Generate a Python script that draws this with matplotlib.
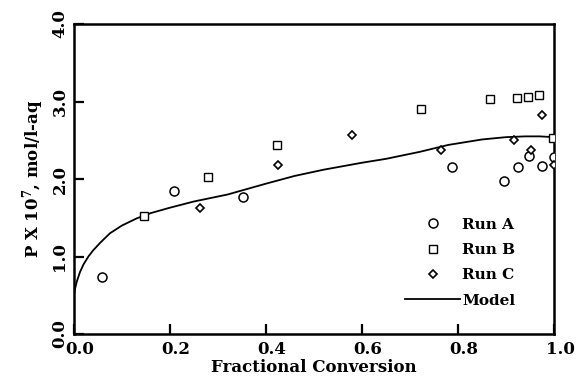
import matplotlib
matplotlib.use('Agg')
from matplotlib import pyplot as plt
from matplotlib.transforms import ScaledTranslation

# measured product concentration (x 1e7 mol/l-aq) vs fractional conversion
run_a_x = [0.058, 0.209, 0.352, 0.788, 0.896, 0.926, 0.948, 0.974, 0.999]
run_a_y = [0.74, 1.85, 1.77, 2.15, 1.97, 2.15, 2.30, 2.17, 2.29]

run_b_x = [0.146, 0.280, 0.423, 0.722, 0.866, 0.922, 0.946, 0.969, 0.997]
run_b_y = [1.52, 2.03, 2.44, 2.90, 3.03, 3.05, 3.06, 3.08, 2.53]

run_c_x = [0.263, 0.424, 0.580, 0.765, 0.917, 0.952, 0.976, 0.999]
run_c_y = [1.63, 2.18, 2.57, 2.37, 2.50, 2.38, 2.83, 2.18]

# model prediction
model_x = [0.0, 0.002, 0.006, 0.0125, 0.02, 0.03, 0.04, 0.055, 0.075, 0.10,
           0.13, 0.16, 0.20, 0.25, 0.32, 0.40, 0.46, 0.52, 0.60, 0.65,
           0.72, 0.78, 0.85, 0.90, 0.94, 0.97, 1.0]
model_y = [0.50, 0.58, 0.68, 0.80, 0.90, 1.00, 1.08, 1.18, 1.30, 1.40,
           1.49, 1.56, 1.63, 1.71, 1.80, 1.94, 2.04, 2.12, 2.21, 2.26,
           2.35, 2.44, 2.51, 2.54, 2.55, 2.55, 2.54]

x_ticks = [0.0, 0.2, 0.4, 0.6, 0.8, 1.0]
y_ticks = [0.0, 1.0, 2.0, 3.0, 4.0]

plt.rcParams['font.family'] = ['DejaVu Serif']
plt.rcParams['font.weight'] = 'bold'
plt.rcParams['mathtext.fontset'] = 'custom'
plt.rcParams['mathtext.rm'] = 'DejaVu Serif:bold'
plt.rcParams['mathtext.it'] = 'DejaVu Serif:bold'
plt.rcParams['mathtext.bf'] = 'DejaVu Serif:bold'

fig = plt.figure(figsize=(5.79, 3.83), dpi=100)
ax = fig.add_axes([74 / 579, 49 / 383, 480 / 579, 310 / 383])

ax.plot(model_x, model_y, color='black', lw=1.3, label='Model', zorder=2)
ax.plot(run_a_x, run_a_y, 'o', ms=6.5, mfc='white', mec='black', mew=1.1,
        label='Run A', zorder=3)
ax.plot(run_b_x, run_b_y, 's', ms=6.0, mfc='white', mec='black', mew=1.0,
        label='Run B', zorder=3)
ax.plot(run_c_x, run_c_y, 'D', ms=4.2, mfc='white', mec='black', mew=1.2,
        label='Run C', zorder=3)

ax.set_xlim(0, 1.0)
ax.set_ylim(0, 4.0)
ax.set_xticks(x_ticks)
ax.set_yticks(y_ticks)
ax.set_xticklabels(['%.1f' % v for v in x_ticks], fontsize=12, fontweight='bold')
ax.set_yticklabels(['%.1f' % v for v in y_ticks], fontsize=12, fontweight='bold',
                   rotation=90, va='center')
ax.tick_params(direction='in', length=7, width=1.6, pad=4)
ax.tick_params(axis='x', pad=5)
for lab in ax.get_xticklabels():
    lab.set_transform(lab.get_transform() + ScaledTranslation(6 / 100, 0, fig.dpi_scale_trans))
for sp in ax.spines.values():
    sp.set_linewidth(1.8)

ax.set_xlabel('Fractional Conversion', fontsize=12, fontweight='bold', labelpad=1)
ax.set_ylabel(r'P X 10$^{7}$, mol/l-aq', fontsize=12, fontweight='bold', labelpad=4)

h, l = ax.get_legend_handles_labels()
order = [1, 2, 3, 0]
ax.legend([h[i] for i in order], [l[i] for i in order], loc='upper left',
          frameon=False, fontsize=11, handlelength=3.6, handletextpad=0.15,
          labelspacing=0.74, borderpad=0, borderaxespad=0,
          bbox_to_anchor=(0.69, 0.375))

fig.savefig('out.png', dpi=100)
